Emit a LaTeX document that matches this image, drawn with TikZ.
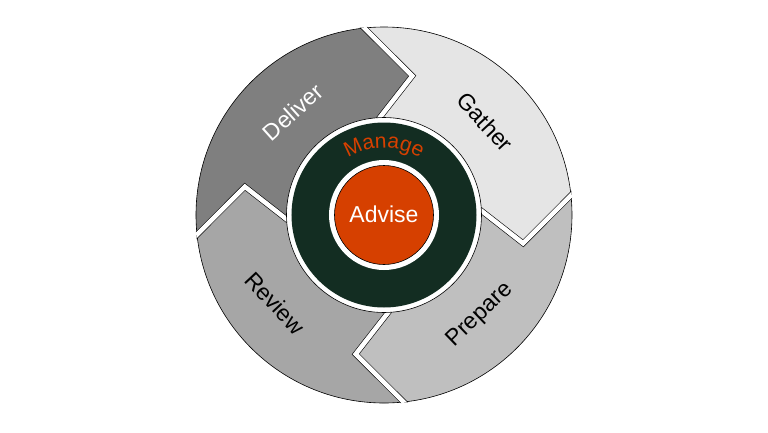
\documentclass[tikz,border=0pt]{standalone}
\usepackage{fontspec}
\setmainfont{Liberation Sans}
\usetikzlibrary{decorations.text,calc}
\definecolor{deliverc}{HTML}{7F7F7F}
\definecolor{gatherc}{HTML}{E5E5E5}
\definecolor{preparec}{HTML}{BFBFBF}
\definecolor{reviewc}{HTML}{A6A6A6}
\definecolor{mgreen}{HTML}{132D22}
\definecolor{morange}{HTML}{D64000}
\tikzset{
  gapline/.style={draw=black, line width=0.6pt, double=white, double distance=4.6pt, line join=miter},
  thinline/.style={draw=black, line width=0.6pt},
  lab/.style={font=\fontsize{23}{23}\selectfont, inner sep=0pt},
}
\begin{document}
\begin{tikzpicture}[x=1pt,y=1pt]
\useasboundingbox (-384,-217) rectangle (384,215);
\coordinate (c) at (0,0);
% segments
\foreach \b/\col in {96/gatherc, 6/preparec, -84/reviewc, -174/deliverc} {
  \pgfmathsetmacro\e{\b-90}
  \fill[\col] (\b:188) arc[start angle=\b, end angle=\e, radius=188]
    -- ({\e-17.5}:142) -- ({\e+2}:90)
    arc[start angle={\e+2}, end angle={\b+2}, radius=90]
    -- ({\b-17.5}:142) -- cycle;
}
\draw[thinline] (c) circle (188);
% gaps between segments
\begin{scope}
  \clip (c) circle (188.8);
  \foreach \b in {96, 6, -84, -174} {
    \coordinate (o\b) at (\b:188);
    \coordinate (p\b) at ({\b-17.5}:142);
    \coordinate (i\b) at ({\b+2}:88);
    \draw[gapline] ($(p\b)!1.25!(o\b)$) -- (p\b) -- (i\b);
  }
\end{scope}
% middle ring
\draw[thinline, fill=white] (c) circle (97.5);
\fill[mgreen] (c) circle (92.5);
\fill[white] (c) circle (55);
\draw[thinline, fill=morange] (c) circle (49.5);
% texts
\node[lab, text=white] (advise) at (0,1) {Advise};
\path[decorate, decoration={text along path, text align=center,
  text={|\fontsize{21}{21}\selectfont\color{morange}|Manage}}]
  (150:67) arc[start angle=150, end angle=30, radius=67];
\node[lab, text=white, rotate=42] (deliver) at (-91,103) {Deliver};
\node[lab, rotate=-47] (gather) at (101,93) {Gather};
\node[lab, rotate=44] (prepare) at (96,-100) {Prepare};
\node[lab, rotate=-47] (review) at (-109,-88) {Review};
\end{tikzpicture}
\end{document}
